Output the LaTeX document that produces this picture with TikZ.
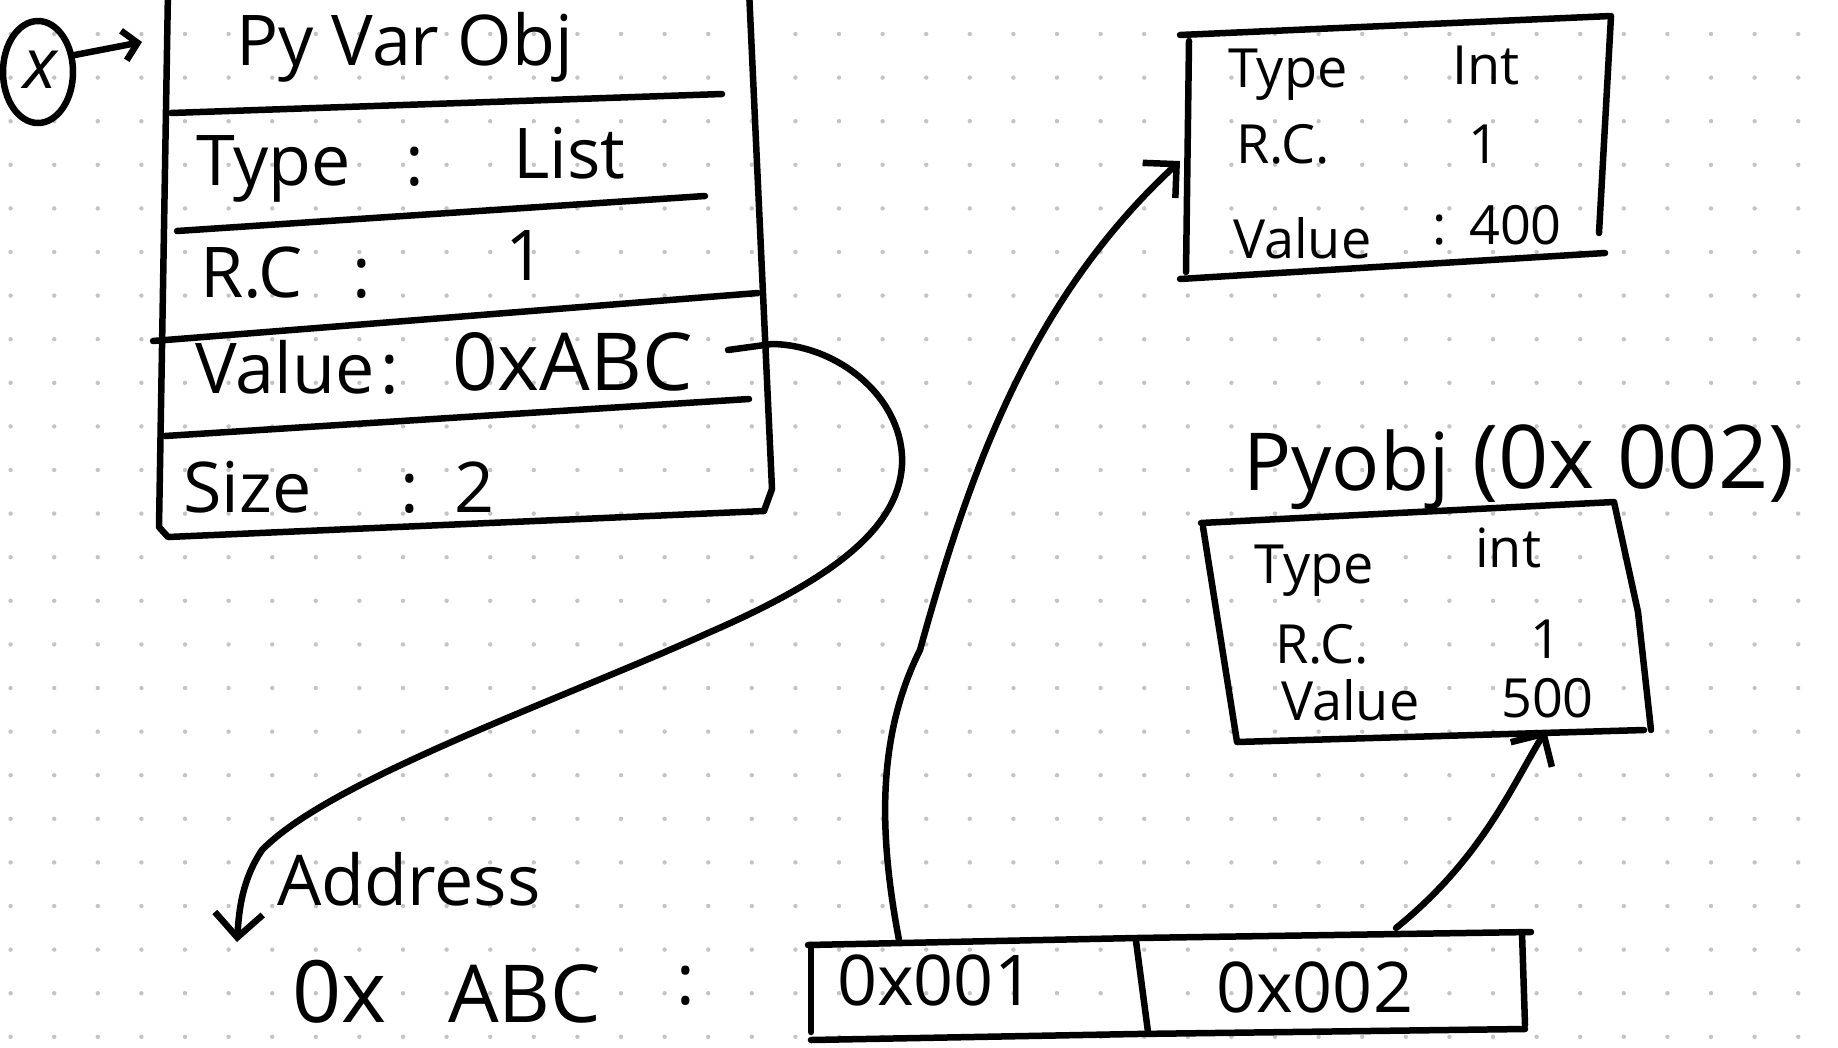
\documentclass[tikz,border=0pt]{standalone}
\usepackage{fontspec}
\setmainfont{Open Sans}
\usetikzlibrary{arrows.meta,shapes.geometric}
\definecolor{dotc}{RGB}{196,196,196}
\begin{document}
\begin{tikzpicture}[x=1pt,y=-1pt,
  ink/.style={line width=6.5pt, line cap=round, line join=round},
  arr/.style={ink, -{Straight Barb[length=24pt,width=48pt]}},
  sarr/.style={ink, -{Straight Barb[length=14pt,width=30pt]}},
  big/.style={font=\fontsize{70}{80}\selectfont, anchor=base west, inner sep=0pt},
  huge/.style={font=\fontsize{80}{90}\selectfont, anchor=base west, inner sep=0pt},
  mid/.style={font=\fontsize{54}{62}\selectfont, anchor=base west, inner sep=0pt},
  cell/.style={font=\fontsize{70}{80}\selectfont, anchor=base west, inner sep=0pt}]
\useasboundingbox (0,0) rectangle (1838,1047);
\fill[white] (0,0) rectangle (1838,1047);
\foreach \i in {0,...,41}{\foreach \j in {0,...,23}{
  \fill[dotc] (10.6+43.6*\i,34+43.6*\j) circle (2.2pt);}}

% ---- variable x
\node[ink, draw, ellipse, minimum width=70pt, minimum height=102pt, inner sep=0pt] (xvar) at (38,72) {};
\node[font=\fontsize{70}{80}\selectfont\itshape, inner sep=0pt] (xlab) at (40,70) {x};
\coordinate (xtip) at (142,42);
\draw[sarr] (xvar.25) -- (xtip);

% ---- PyVarObj box
\draw[ink] (168,-10) -- (159,527) -- (168,537) -- (764,511) -- (772,489) -- (749,-10);
\draw[ink] (171,113) -- (722,94);
\draw[ink] (177,231) -- (705,196);
\draw[ink] (153,341) -- (758,293);
\draw[ink] (165,436) -- (749,399);
\node[big] (title) at (236,65) {Py Var Obj};
\node[big] (tlab) at (196,185) {Type};
\node[big] (tcol) at (405,185) {:};
\node[big] (tval) at (513,178) {List};
\node[big] (rlab) at (200,297) {R.C};
\node[big] (rcol) at (352,297) {:};
\node[big] (rval) at (505,280) {1};
\node[big] (vlab) at (195,393) {Value};
\node[big] (vcol) at (380,393) {:};
\node[huge] (val) at (452,390) {0xABC};
\node[big] (slab) at (183,512) {Size};
\node[big] (scol) at (400,512) {:};
\node[big] (sval) at (454,512) {2};

% ---- Int 400 box
\draw[ink] (1180,35) -- (1611,16) -- (1599,233);
\draw[ink] (1189,41) -- (1186,272);
\draw[ink] (1180,279) -- (1605,253);
\node[mid] (aty) at (1228,87) {Type};
\node[mid] (atv) at (1452,84) {Int};
\node[mid] (arc) at (1236,163) {R.C.};
\node[mid] (arv) at (1468,163) {1};
\node[mid] (avl) at (1233,258) {Value};
\node[mid] (avc) at (1432,244) {:};
\node[mid] (avv) at (1469,244) {400};

% ---- PyObj 0x002 box
\node[huge] (ptitle) at (1243,490) {Pyobj};
\node[font=\fontsize{88}{96}\selectfont, anchor=base west, inner sep=0pt] (paddr) at (1472,488) {(0x 002)};
\draw[ink] (1203,527) -- (1237,742) -- (1644,730);
\draw[ink] (1201,523) -- (1614,502) -- (1638,612) -- (1651,730);
\node[mid] (bty) at (1254,583) {Type};
\node[mid] (btv) at (1475,567) {int};
\node[mid] (brc) at (1275,663) {R.C.};
\node[mid] (brv) at (1530,658) {1};
\node[mid] (bvl) at (1281,720) {Value};
\node[mid] (bvv) at (1501,717) {500};

% ---- address array
\draw[ink] (808,945) -- (1136,938) -- (1531,932);
\draw[ink] (811,945) -- (811,1032);
\draw[ink] (811,1040) -- (1136,1034) -- (1525,1029);
\draw[ink] (1136,941) -- (1148,1032);
\draw[ink] (1522,933) -- (1525,1025);
\node[cell] (c1) at (837,1005) {0x001};
\node[cell] (c2) at (1216,1012) {0x002};
\node[font=\fontsize{86}{96}\selectfont, anchor=base west, inner sep=0pt] (a0x) at (292,1022) {0x};
\node[huge] (aabc) at (448,1022) {ABC};
\node[big] (acol) at (676,1004) {:};
\node[big] (addr) at (277,905) {Address};

% ---- connectors
\coordinate (vstart) at (728,350);
\coordinate (addrtip) at (237,942);
\draw[arr] (vstart) -- (772,344) .. controls (840,345) and (905,400) .. (902,465)
  .. controls (898,530) and (830,580) .. (708,633)
  .. controls (560,700) and (330,780) .. (262,850)
  .. controls (242,880) and (239,910) .. (addrtip);

\coordinate (c1top) at (899,940);
\coordinate (inttip) at (1180,161);
\draw[arr] (c1top) .. controls (880,840) and (875,740) .. (920,650)
  .. controls (970,470) and (1030,300) .. (inttip);

\coordinate (c2top) at (1396,928);
\coordinate (fivetip) at (1546,730);
\draw[arr] (c2top) .. controls (1480,860) and (1510,790) .. (fivetip);
\end{tikzpicture}
\end{document}
